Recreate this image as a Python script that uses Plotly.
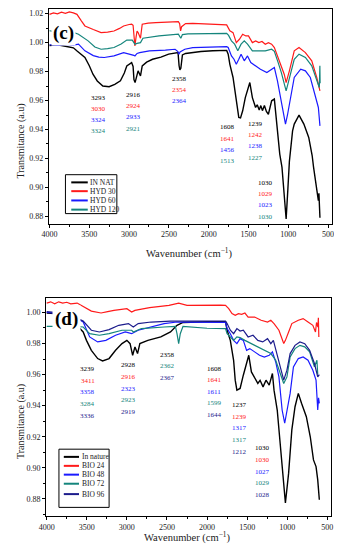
import plotly.graph_objects as go

# ---------------- data: (wavenumber, transmittance) ----------------
IN_NAT = [(4000, 0.998), (3900, 0.9985), (3800, 0.9975), (3700, 0.9964), (3650, 0.994), (3600, 0.9915),
          (3555, 0.9897), (3500, 0.984), (3454, 0.9782), (3400, 0.9735), (3330, 0.970), (3251, 0.9695),
          (3180, 0.9712), (3109, 0.9736), (3060, 0.979), (3029, 0.9839), (2990, 0.9858), (2968, 0.9862),
          (2950, 0.9835), (2939, 0.9745), (2925, 0.9724), (2905, 0.978), (2887, 0.9805), (2870, 0.9785),
          (2857, 0.977), (2835, 0.9839), (2780, 0.9865), (2705, 0.9885), (2600, 0.990), (2503, 0.992),
          (2420, 0.9928), (2385, 0.9931), (2372, 0.984), (2362, 0.9812), (2350, 0.9822), (2330, 0.9915),
          (2290, 0.9925), (2200, 0.9932), (2098, 0.9938), (1950, 0.9944), (1800, 0.9948), (1774, 0.9946),
          (1755, 0.992), (1734, 0.985), (1694, 0.9759), (1653, 0.9598), (1622, 0.9483), (1600, 0.948),
          (1573, 0.9529), (1540, 0.962), (1512, 0.9679), (1483, 0.9724), (1451, 0.962), (1411, 0.9552),
          (1390, 0.957), (1365, 0.9535), (1345, 0.9565), (1325, 0.953), (1300, 0.9565), (1275, 0.9525),
          (1250, 0.9505), (1230, 0.9555), (1209, 0.9598), (1175, 0.961), (1148, 0.9437), (1107, 0.923),
          (1079, 0.9138), (1050, 0.895), (1027, 0.8782), (1005, 0.899), (986, 0.918), (946, 0.939),
          (925, 0.9437), (865, 0.9499), (804, 0.9437), (743, 0.9345), (700, 0.922), (682, 0.9138),
          (660, 0.905), (642, 0.900), (622, 0.8908), (615, 0.896), (608, 0.885), (602, 0.879)]

HYD_30 = [(4000, 1.0195), (3950, 1.0205), (3900, 1.0198), (3850, 1.021), (3800, 1.0202), (3750, 1.0212),
          (3700, 1.0205), (3655, 1.0195), (3600, 1.015), (3555, 1.0115), (3450, 1.009), (3352, 1.0069),
          (3270, 1.0072), (3190, 1.008), (3120, 1.0098), (3069, 1.0115), (3000, 1.0125), (2968, 1.0127),
          (2950, 1.012), (2939, 1.0058), (2927, 0.9977), (2912, 1.004), (2900, 1.008), (2887, 1.0069),
          (2870, 1.004), (2857, 1.003), (2835, 1.0127), (2760, 1.0135), (2665, 1.0138), (2500, 1.0142),
          (2381, 1.0145), (2365, 1.013), (2353, 1.0081), (2340, 1.011), (2290, 1.0131), (2200, 1.0133),
          (2098, 1.0131), (1950, 1.0128), (1774, 1.0122), (1734, 1.0081), (1694, 1.0069), (1653, 1.000),
          (1614, 1.0023), (1573, 1.0058), (1533, 1.0046), (1500, 1.0046), (1451, 1.000), (1410, 1.0012),
          (1370, 1.000), (1330, 1.0008), (1289, 0.9989), (1250, 1.000), (1209, 0.9989), (1175, 0.9966),
          (1127, 0.9897), (1079, 0.9828), (1050, 0.978), (1027, 0.9724), (1005, 0.976), (986, 0.9805),
          (925, 0.9943), (865, 0.9966), (785, 0.9931), (705, 0.9874), (642, 0.9759), (602, 0.9667)]

HYD_60 = [(4000, 0.9985), (3900, 0.998), (3800, 0.9988), (3700, 0.9982), (3636, 0.9989), (3600, 0.997),
          (3555, 0.9943), (3450, 0.991), (3380, 0.990), (3312, 0.9897), (3250, 0.9903), (3190, 0.9908),
          (3069, 0.9931), (2968, 0.992), (2940, 0.9912), (2927, 0.9908), (2900, 0.9925), (2867, 0.9931),
          (2745, 0.9943), (2544, 0.9948), (2422, 0.9954), (2390, 0.994), (2374, 0.992), (2360, 0.9935),
          (2300, 0.9954), (2200, 0.9965), (2000, 0.997), (1850, 0.9972), (1774, 0.9972), (1755, 0.9966),
          (1714, 0.9908), (1682, 0.9885), (1653, 0.9851), (1622, 0.9885), (1593, 0.992), (1553, 0.9874),
          (1512, 0.9908), (1471, 0.9862), (1411, 0.9839), (1350, 0.9816), (1269, 0.9793), (1209, 0.9816),
          (1175, 0.9828), (1136, 0.9736), (1087, 0.9598), (1047, 0.946), (1035, 0.9437), (1010, 0.950),
          (986, 0.9575), (966, 0.9644), (925, 0.9759), (844, 0.9816), (785, 0.9805), (723, 0.9759),
          (663, 0.9644), (622, 0.9552), (602, 0.9425)]

HYD_120 = [(4000, 1.0082), (3950, 1.0078), (3900, 1.008), (3800, 1.0075), (3700, 1.007), (3636, 1.0058),
           (3515, 1.0012), (3430, 0.997), (3352, 0.9954), (3270, 0.9958), (3190, 0.9966), (3100, 0.999),
           (3029, 1.0017), (2960, 1.0017), (2940, 1.0003), (2927, 0.9989), (2900, 0.9995), (2857, 1.000),
           (2826, 1.003), (2624, 1.0046), (2381, 1.0058), (2350, 1.003), (2330, 1.0055), (2260, 1.006),
           (2000, 1.0062), (1774, 1.0064), (1750, 1.005), (1714, 1.0012), (1674, 0.9989), (1634, 0.9943),
           (1593, 0.9989), (1553, 1.0012), (1512, 0.9989), (1451, 0.9943), (1370, 0.9943), (1289, 0.9943),
           (1209, 0.9954), (1175, 0.994), (1127, 0.9862), (1087, 0.9793), (1027, 0.9667), (986, 0.9759),
           (925, 0.9885), (865, 0.992), (785, 0.9897), (705, 0.9839), (642, 0.9736), (610, 0.969),
           (603, 0.984), (600, 0.972)]

IN_NATURE = [(4000, 0.9995), (3800, 0.999), (3650, 0.993), (3545, 0.9874), (3504, 0.982), (3443, 0.9756),
             (3364, 0.9703), (3303, 0.9688), (3222, 0.9703), (3141, 0.9756), (3061, 0.9799), (3000, 0.982),
             (2960, 0.9799), (2928, 0.9724), (2899, 0.9778), (2867, 0.9735), (2838, 0.9799), (2738, 0.982),
             (2577, 0.9842), (2456, 0.9874), (2375, 0.9917), (2300, 0.9935), (2000, 0.994), (1770, 0.994),
             (1750, 0.9885), (1710, 0.982), (1669, 0.9692), (1649, 0.9564), (1628, 0.950), (1588, 0.9511),
             (1548, 0.9596), (1507, 0.9681), (1480, 0.9724), (1447, 0.9617), (1407, 0.9575), (1367, 0.9543),
             (1339, 0.9563), (1302, 0.9521), (1265, 0.9564), (1225, 0.9532), (1185, 0.9607), (1165, 0.950),
             (1125, 0.9372), (1084, 0.9115), (1044, 0.8859), (1023, 0.8774), (983, 0.8966), (943, 0.9244),
             (903, 0.9393), (862, 0.9479), (822, 0.9415), (762, 0.9329), (713, 0.920), (673, 0.9051),
             (641, 0.9008), (620, 0.8923), (600, 0.8795)]

BIO_24 = [(4000, 1.006), (3950, 1.0068), (3900, 1.0055), (3850, 1.0068), (3800, 1.006), (3750, 1.0065),
          (3700, 1.0055), (3620, 1.006), (3443, 1.0008), (3322, 0.9996), (3240, 1.0005), (3161, 1.0013),
          (3000, 1.0024), (2940, 1.0002), (2900, 1.0013), (2717, 1.003), (2475, 1.0045), (2354, 1.006),
          (2250, 1.0045), (2072, 1.0047), (1830, 1.0047), (1770, 1.0045), (1730, 1.0024), (1689, 0.9992),
          (1649, 0.9981), (1609, 0.9992), (1568, 0.9987), (1528, 0.9996), (1488, 0.997), (1407, 0.997),
          (1326, 0.9949), (1246, 0.9938), (1205, 0.9949), (1165, 0.9928), (1104, 0.9885), (1044, 0.980),
          (1023, 0.982), (983, 0.9874), (943, 0.9928), (862, 0.9949), (802, 0.996), (741, 0.9938),
          (681, 0.9917), (648, 0.9874), (635, 0.9935), (618, 0.9906), (612, 0.9965), (606, 0.9842)]

BIO_48 = [(4000, 1.000), (3800, 0.999), (3650, 0.997), (3545, 0.9938), (3464, 0.9842), (3364, 0.981),
          (3262, 0.982), (3141, 0.9853), (3020, 0.9874), (2940, 0.9863), (2859, 0.9885), (2698, 0.9906),
          (2536, 0.9928), (2375, 0.9938), (2000, 0.9935), (1770, 0.9935), (1750, 0.9896), (1710, 0.9863),
          (1669, 0.982), (1628, 0.9799), (1588, 0.9831), (1548, 0.982), (1507, 0.9756), (1467, 0.9767),
          (1407, 0.9746), (1346, 0.9724), (1286, 0.9713), (1225, 0.9724), (1185, 0.9746), (1144, 0.9681),
          (1104, 0.9585), (1064, 0.9372), (1032, 0.9287), (1004, 0.9372), (964, 0.9479), (923, 0.9649),
          (862, 0.9703), (802, 0.9713), (741, 0.9692), (681, 0.9628), (641, 0.9564), (620, 0.9372),
          (610, 0.945), (600, 0.9415)]

BIO_72 = [(4000, 0.991), (3800, 0.9912), (3650, 0.991), (3545, 0.9906), (3464, 0.9863), (3343, 0.9853),
          (3222, 0.9863), (3061, 0.9885), (2940, 0.9885), (2920, 0.9874), (2819, 0.9896), (2536, 0.9906),
          (2395, 0.991), (2375, 0.9863), (2354, 0.9799), (2334, 0.9863), (2300, 0.991), (2000, 0.9898),
          (1770, 0.9896), (1750, 0.9863), (1710, 0.9842), (1669, 0.982), (1628, 0.9842), (1588, 0.9838),
          (1528, 0.982), (1447, 0.9799), (1367, 0.9778), (1286, 0.9756), (1205, 0.9735), (1144, 0.9692),
          (1084, 0.9607), (1044, 0.9543), (1004, 0.9585), (964, 0.9713), (903, 0.9767), (842, 0.9788),
          (782, 0.9778), (721, 0.9746), (661, 0.965), (630, 0.9692), (620, 0.960)]

BIO_96 = [(4000, 1.0005), (3800, 0.9995), (3650, 0.997), (3545, 0.9944), (3443, 0.9885), (3343, 0.9874),
          (3222, 0.9889), (3101, 0.9917), (2980, 0.9928), (2920, 0.9906), (2859, 0.9928), (2698, 0.9938),
          (2456, 0.9944), (2000, 0.9944), (1770, 0.9944), (1750, 0.9928), (1710, 0.9885), (1669, 0.9863),
          (1628, 0.9896), (1588, 0.988), (1548, 0.9885), (1488, 0.9842), (1427, 0.9853), (1367, 0.982),
          (1306, 0.981), (1246, 0.9831), (1205, 0.9799), (1173, 0.982), (1132, 0.9735), (1084, 0.9628),
          (1044, 0.9564), (1004, 0.9628), (964, 0.9735), (903, 0.9788), (842, 0.981), (782, 0.9799),
          (721, 0.9756), (661, 0.9671), (620, 0.9585), (600, 0.960)]

# peak labels (one per column, None = no label)
PEAKS_C = {
    "IN NAT": ["3293", "2916", "2358", "1608", "1239", "1030"],
    "HYD 30": ["3030", "2924", "2354", "1641", "1242", "1029"],
    "HYD 60": ["3324", "2933", "2364", "1456", "1238", "1023"],
    "HYD 120": ["3324", "2921", None, "1513", "1227", "1030"],
}
PEAKS_D = {
    "In nature": ["3239", "2928", "2358", "1608", "1237", "1030"],
    "BIO 24": ["3411", "2916", None, "1641", "1239", "1030"],
    "BIO 48": ["3358", "2323", None, "1611", "1317", "1027"],
    "BIO 72": ["3284", "2923", "2362", "1599", "1317", "1029"],
    "BIO 96": ["3336", "2919", "2367", "1644", "1212", "1028"],
}

# ---------------- styles / layout ----------------
OFF = 8                      # page body margin of the written html
W, H = 342 - OFF, 550 - OFF  # figure size so the page fills the 342x550 window
FONT = "Liberation Serif"
SER_C = [("IN NAT", IN_NAT, "#000000", 1.4), ("HYD 30", HYD_30, "#ff1a1a", 1.2),
         ("HYD 60", HYD_60, "#1a1aff", 1.2), ("HYD 120", HYD_120, "#14857c", 1.2)]
SER_D = [("In nature", IN_NATURE, "#000000", 1.4), ("BIO 24", BIO_24, "#ff1a1a", 1.2),
         ("BIO 48", BIO_48, "#1a1aff", 1.2), ("BIO 72", BIO_72, "#14857c", 1.2),
         ("BIO 96", BIO_96, "#1c1c8c", 1.2)]

fig = go.Figure()
for name, pts, col, lw in SER_C:
    fig.add_trace(go.Scatter(x=[p[0] for p in pts], y=[p[1] for p in pts], mode="lines", name=name,
                             line=dict(color=col, width=lw), showlegend=False, xaxis="x", yaxis="y"))
for name, pts, col, lw in SER_D:
    fig.add_trace(go.Scatter(x=[p[0] for p in pts], y=[p[1] for p in pts], mode="lines", name=name,
                             line=dict(color=col, width=lw), showlegend=False, xaxis="x2", yaxis="y2"))


def px(x):
    return min(max((x - OFF) / W, 0.0), 1.0)


def py(y):
    return min(max(1 - (y - OFF) / H, 0.0), 1.0)


def axis_common():
    return dict(showline=True, linecolor="black", linewidth=1, mirror=True, showgrid=False, zeroline=False,
                ticks="outside", ticklen=3, tickcolor="black", tickwidth=1, ticklabeloverflow="allow",
                tickfont=dict(family=FONT, size=8, color="#222"))


fig.update_layout(
    width=W, height=H, autosize=False, margin=dict(l=0, r=0, t=0, b=0),
    paper_bgcolor="white", plot_bgcolor="white",
    xaxis=dict(domain=[px(43), px(335)], range=[4007, 448], anchor="y", tickvals=list(range(4000, 499, -500)),
               minor=dict(ticks="outside", ticklen=2, dtick=250, tickcolor="black"), **axis_common()),
    yaxis=dict(domain=[py(223), py(8)], range=[0.875, 1.0232], anchor="x", tick0=0.88, dtick=0.02,
               tickformat=".2f", minor=dict(ticks="outside", ticklen=2, dtick=0.01, tickcolor="black"),
               **axis_common()),
    xaxis2=dict(domain=[px(40), px(333.3)], range=[4008, 460], anchor="y2", tickvals=list(range(4000, 499, -500)),
                minor=dict(ticks="outside", ticklen=2, dtick=250, tickcolor="black"), **axis_common()),
    yaxis2=dict(domain=[py(516), py(297.3)], range=[0.869, 1.0094], anchor="x2", tick0=0.88, dtick=0.02,
                tickformat=".2f", minor=dict(ticks="outside", ticklen=2, dtick=0.01, tickcolor="black"),
                **axis_common()),
)

ann = []
shapes = []

# peak label columns: x position, top y
COLS_C = [(3385, 0.962), (2939, 0.9637), (2362, 0.9752), (1762, 0.9414), (1410, 0.9437), (1282, 0.903)]
COLS_D = [(3485, 0.9635), (2980, 0.966), (2496, 0.9729), (1912, 0.9639), (1590, 0.9404), (1307, 0.9126)]


def add_peaks(peaks, cols, series, step, xr, yr):
    colors = {s[0]: s[2] for s in series}
    names = [s[0] for s in series]
    for ci, (cx, cy) in enumerate(cols):
        row = 0
        for n in names:
            t = peaks[n][ci]
            if t is None:
                continue
            ann.append(dict(x=cx, y=cy - row * step, xref=xr, yref=yr, text=t, showarrow=False,
                            xanchor="center", yanchor="middle",
                            font=dict(family=FONT, size=7, color=colors[n])))
            row += 1


add_peaks(PEAKS_C, COLS_C, SER_C, 0.0077, "x", "y")
add_peaks(PEAKS_D, COLS_D, SER_D, 0.0075, "x2", "y2")

# panel letters
ann.append(dict(x=px(58), y=py(31.7), xref="paper", yref="paper", text="<b>(c)</b>", showarrow=False,
                xanchor="center", yanchor="middle", bgcolor="white",
                font=dict(family=FONT, size=19, color="black"), borderpad=1))
ann.append(dict(x=px(61.5), y=py(319), xref="paper", yref="paper", text="<b>(d)</b>", showarrow=False,
                xanchor="center", yanchor="middle", bgcolor="white",
                font=dict(family=FONT, size=19, color="black"), borderpad=2))

# axis titles
for yc in (140, 421):
    ann.append(dict(x=px(14), y=py(yc), xref="paper", yref="paper", text="Transmitance (a.u)",
                    textangle=-90, showarrow=False, xanchor="center", yanchor="middle",
                    font=dict(family=FONT, size=10, color="#222")))
for xc, yc in ((188, 252), (186, 537)):
    ann.append(dict(x=px(xc), y=py(yc), xref="paper", yref="paper", text="Wavenumber (cm<sup>\u22121</sup>)",
                    showarrow=False, xanchor="center", yanchor="middle",
                    font=dict(family=FONT, size=10.5, color="#222")))


# compact legends drawn from shapes + text
def add_legend(series, box, x0, x1, ys):
    shapes.append(dict(type="rect", xref="paper", yref="paper", x0=px(box[0]), x1=px(box[1]),
                       y0=py(box[3]), y1=py(box[2]), line=dict(color="black", width=1), fillcolor="white"))
    for (name, _, col, _), yy in zip(series, ys):
        shapes.append(dict(type="line", xref="paper", yref="paper", x0=px(x0), x1=px(x1), y0=py(yy), y1=py(yy),
                           line=dict(color=col, width=2)))
        ann.append(dict(x=px(x1 + 0.5), y=py(yy), xref="paper", yref="paper", text=name, showarrow=False,
                        xanchor="left", yanchor="middle", font=dict(family=FONT, size=7.5, color="#222")))


add_legend(SER_C, (60, 113, 174, 213), 66, 83, [181.7, 190.5, 199.8, 209])
add_legend(SER_D, (53.3, 105, 449, 507.3), 58.3, 74, [456.7, 465.7, 474.5, 483.6, 494])

fig.update_layout(annotations=ann, shapes=shapes)
fig.write_html("out.html")
